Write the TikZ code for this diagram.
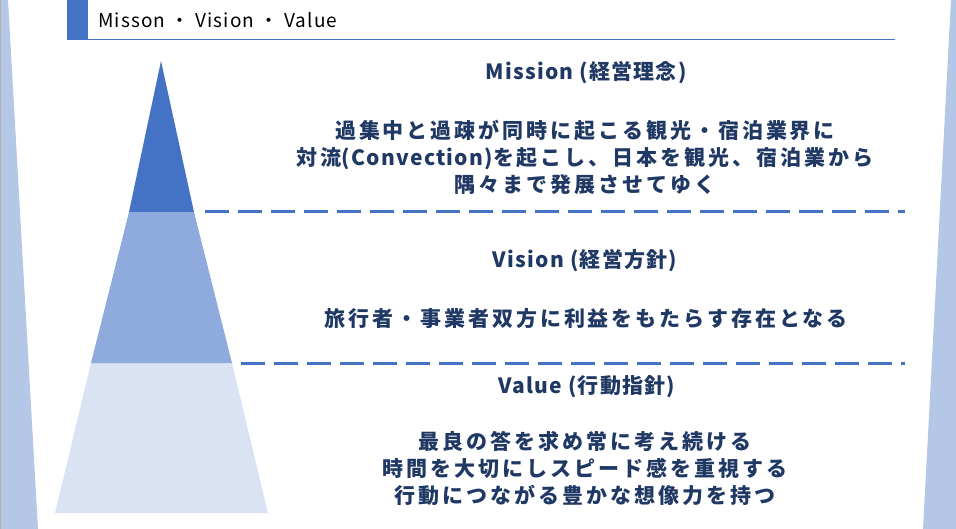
\documentclass[tikz,border=0pt]{standalone}
\usepackage{fontspec}
\setmainfont{Noto Sans CJK JP}
\newfontfamily\headfont{Noto Sans CJK JP}[LetterSpace=6]
\newfontfamily\bodyfont{Noto Sans CJK JP}[LetterSpace=14]
\definecolor{accent}{HTML}{4472C4}
\definecolor{midblue}{HTML}{8FAADC}
\definecolor{paleblue}{HTML}{DAE3F3}
\definecolor{strip}{HTML}{B4C7E7}
\definecolor{navy}{HTML}{203864}

\begin{document}
\begin{tikzpicture}[x=1pt,y=-1pt,
    heading/.style={text=navy,font=\headfont\bfseries\fontsize{21}{25}\selectfont},
    body/.style={text=navy,align=center,font=\bodyfont\bfseries\fontsize{21}{27}\selectfont},
    divider/.style={accent,line width=3pt,dash pattern=on 24pt off 9pt}]
    \useasboundingbox (0,0) rectangle (956,529);
    % Side strips
    \fill[strip] (0,0) -- (8,0) -- (38,529) -- (0,529) -- cycle;
    \draw[gray!60] (0.3,0) -- (0.3,529);
    \fill[strip] (951,0) -- (956,0) -- (956,529) -- (923,529) -- cycle;
    % Title bar
    \fill[accent] (67,0) rectangle (88,39);
    \draw[accent] (67,39) -- (895,39);
    \node[anchor=base west,inner sep=0pt,font=\headfont\fontsize{19}{23}\selectfont] (title) at (98,28) {Misson ・ Vision ・ Value};
    % Pyramid
    \fill[paleblue] (55,513) -- (91,363) -- (232,363) -- (268,513) -- cycle;
    \fill[midblue] (91,363) -- (129,212) -- (194,212) -- (232,363) -- cycle;
    \fill[accent] (129,212) -- (161,61) -- (194,212) -- cycle;
    % Dividers
    \draw[divider] (205,212) -- (905,212);
    \draw[divider] (241,363) -- (905,363);
    % Texts
    \node[heading] (mission) at (586,73) {Mission (経営理念)};
    \node[body] (missiontext) at (585,157) {過集中と過疎が同時に起こる観光・宿泊業界に\\対流{\headfont(Convection)}を起こし、日本を観光、宿泊業から\\隅々まで発展させてゆく};
    \node[heading] (vision) at (585,261) {Vision (経営方針)};
    \node[body] (visiontext) at (586,319) {旅行者・事業者双方に利益をもたらす存在となる};
    \node[heading] (value) at (587,387) {Value (行動指針)};
    \node[body] (valuetext) at (585,469) {最良の答を求め常に考え続ける\\時間を大切にしスピード感を重視する\\行動につながる豊かな想像力を持つ};
\end{tikzpicture}
\end{document}
